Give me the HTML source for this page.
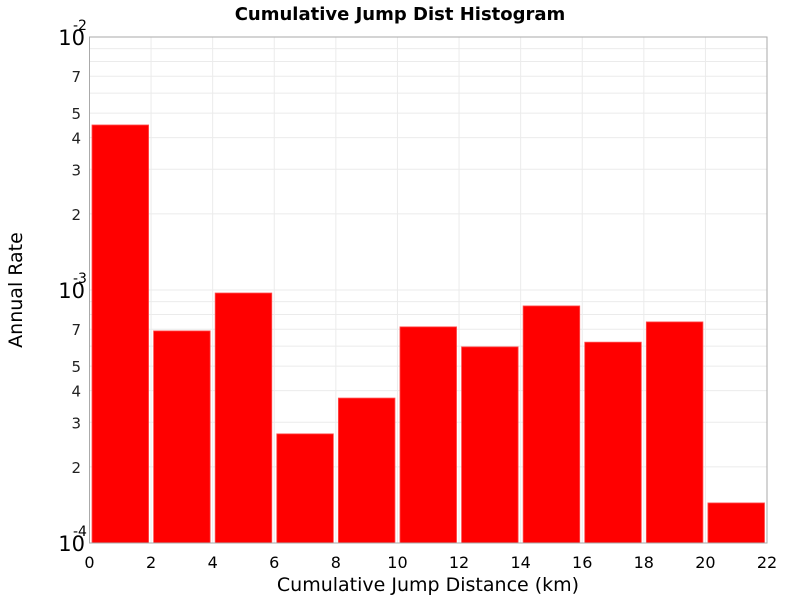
<!DOCTYPE html>
<html><head><meta charset="utf-8"><style>
body{margin:0;background:#fff;width:800px;height:600px;overflow:hidden}
svg{font-family:"DejaVu Sans","Liberation Sans",sans-serif}
</style></head><body>
<svg id="c" width="800" height="600"></svg>
<script>
const binStarts=[0,2,4,6,8,10,12,14,16,18,20];
const binWidth=2;
const rates=[4.49e-3,6.89e-4,9.73e-4,2.70e-4,3.74e-4,7.15e-4,5.96e-4,8.65e-4,6.22e-4,7.48e-4,1.44e-4];
const xTicks=[0,2,4,6,8,10,12,14,16,18,20,22];
const yMinorLabels=[2,3,4,5,7];
const L=89.5,R=767,T=37,B=543,xmin=0,xmax=22,lmin=-4,lmax=-2;
const X=v=>L+(v-xmin)/(xmax-xmin)*(R-L);
const Y=v=>B-(Math.log10(v)-lmin)/(lmax-lmin)*(B-T);
const s=document.getElementById('c');const NS='http://www.w3.org/2000/svg';
function el(t,a,p){const e=document.createElementNS(NS,t);for(const k in a)e.setAttribute(k,a[k]);(p||s).appendChild(e);return e;}
function tx(x,y,str,a){const e=el('text',Object.assign({x:x,y:y},a));e.textContent=str;return e;}
// grid
for(let d=-4;d<-2;d++){for(let m=1;m<=9;m++){const v=m*Math.pow(10,d);if(m===1&&d===-4)continue;const g=el('line',{x1:L,x2:R,y1:Y(v),y2:Y(v),stroke:'#ebebeb','stroke-width':1});}}
xTicks.forEach(t=>{const g=el('line',{x1:X(t),x2:X(t),y1:T,y2:B,stroke:'#ebebeb','stroke-width':1});});
// bars
binStarts.forEach((b,i)=>{const x0=X(b)+2.5,x1=X(b+binWidth)-2.5,y=Y(rates[i]);const r=el('rect',{x:x0,y:y,width:x1-x0,height:B-y,fill:'#ff0000',stroke:'#ff5050','stroke-width':0.8});});
// frame
const f=el('rect',{x:L,y:T,width:R-L,height:B-T,fill:'none',stroke:'#aaa','stroke-width':1});
// x ticks
xTicks.forEach(t=>{const e=tx(X(t),568,String(t),{'text-anchor':'middle','font-size':16,fill:'#000'});});
// y labels
[-4,-3,-2].forEach(d=>{const e=tx(85,Y(Math.pow(10,d))+8,'10',{'text-anchor':'end','font-size':21,fill:'#000'});
const sup=tx(73,Y(Math.pow(10,d))-7,String(d),{'font-size':14,fill:'#000'});});
[-4,-3].forEach(d=>yMinorLabels.forEach(m=>{const e=tx(81,Y(m*Math.pow(10,d))+6,String(m),{'text-anchor':'end','font-size':15,fill:'#222'});}));
const t=tx(400,20,'Cumulative Jump Dist Histogram',{'text-anchor':'middle','font-size':18,'font-weight':'bold',fill:'#000'});
const xt=tx(428,591,'Cumulative Jump Distance (km)',{'text-anchor':'middle','font-size':19,fill:'#000'});
const yt=tx(0,0,'Annual Rate',{'text-anchor':'middle','font-size':19,fill:'#000',transform:'translate(22,290) rotate(-90)'});
</script>
</body></html>
